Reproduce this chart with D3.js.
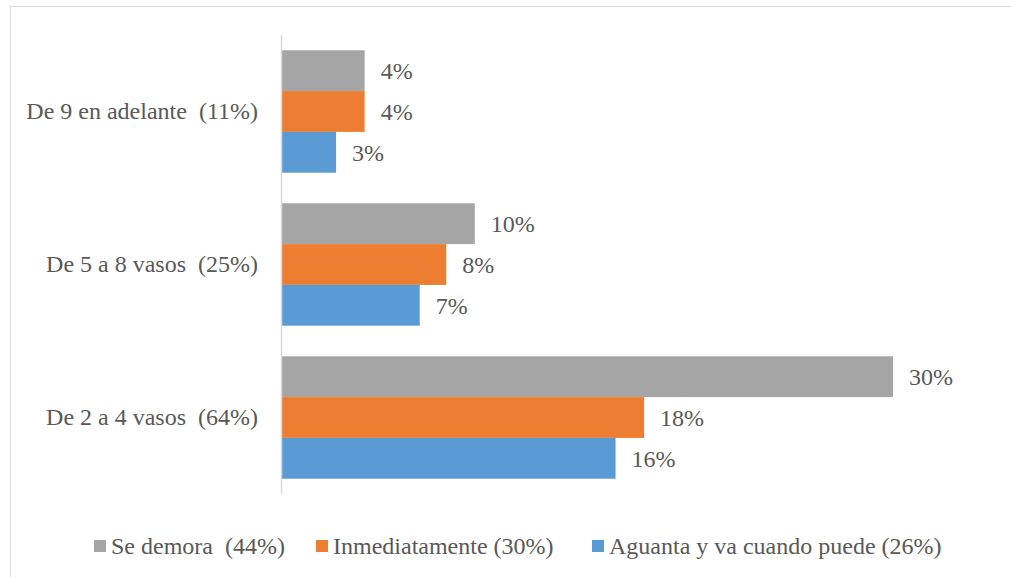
<!DOCTYPE html>
<html>
<head>
<meta charset="utf-8">
<script src="https://cdn.jsdelivr.net/npm/d3@7"></script>
</head>
<body style="margin:0">
<svg id="chart" width="1011" height="577"></svg>
<script>
// Categories (top to bottom) and series
const categories = ['De 9 en adelante  (11%)', 'De 5 a 8 vasos  (25%)', 'De 2 a 4 vasos  (64%)'];
const seriesNames = ['Se demora  (44%)', 'Inmediatamente (30%)', 'Aguanta y va cuando puede (26%)'];
const seriesColors = ['#A5A5A5', '#ED7D31', '#5B9BD5'];

// values per category, in series order (percent)
const seDemora = [4.1, 9.5, 30.0];
const inmediatamente = [4.1, 8.1, 17.8];
const aguanta = [2.7, 6.8, 16.4];

const seriesValues = [seDemora, inmediatamente, aguanta];

const FONT = 'Liberation Serif';
const FONT_SIZE = 24;
const TEXT_COLOR = '#595959';

const svg = d3.select('#chart');

// Outer chart border (only top/left visible in the frame)
svg.append('rect')
  .attr('x', 10.5).attr('y', 6.5)
  .attr('width', 1100).attr('height', 700)
  .attr('fill', 'none')
  .attr('stroke', '#D9D9D9');

const margin = { left: 281, top: 35, bottom: 494 };

const x = d3.scaleLinear().domain([0, 30]).range([margin.left, 893]);
const y0 = d3.scaleBand()
  .domain(categories)
  .range([margin.top, margin.bottom])
  .paddingInner(0.2)
  .paddingOuter(0.1);
const y1 = d3.scaleBand()
  .domain(d3.range(seriesNames.length))
  .range([0, y0.bandwidth()]);

const rows = [];
categories.forEach((c, i) => {
  seriesValues.forEach((vals, s) => {
    rows.push({ cat: c, s: s, v: vals[i] });
  });
});

const plot = svg.append('g');

plot.selectAll('rect.bar')
  .data(rows)
  .enter()
  .append('rect')
  .attr('class', 'bar')
  .attr('x', x(0))
  .attr('y', d => y0(d.cat) + y1(d.s))
  .attr('width', d => x(d.v) - x(0))
  .attr('height', y1.bandwidth())
  .attr('fill', d => seriesColors[d.s]);

plot.selectAll('text.val')
  .data(rows)
  .enter()
  .append('text')
  .attr('class', 'val')
  .attr('x', d => x(d.v) + 16)
  .attr('y', d => y0(d.cat) + y1(d.s) + y1.bandwidth() / 2)
  .attr('dy', '0.35em')
  .attr('font-family', FONT)
  .attr('font-size', FONT_SIZE)
  .attr('fill', TEXT_COLOR)
  .text(d => Math.round(d.v) + '%');

// Vertical category axis
const yAxis = d3.axisLeft(y0).tickSize(0).tickPadding(23);
const gy = svg.append('g')
  .attr('transform', `translate(${x(0)},0)`)
  .call(yAxis)
  .attr('font-family', FONT)
  .attr('font-size', FONT_SIZE);
gy.select('.domain')
  .attr('d', `M0.5,${margin.top}V${margin.bottom}`)
  .attr('stroke', '#D9D9D9')
  .attr('stroke-width', 1.5);
gy.selectAll('.tick text')
  .attr('xml:space', 'preserve')
  .attr('fill', TEXT_COLOR);

// Legend
const legendX = [94, 316, 592];
const legend = svg.append('g');
const items = legend.selectAll('g')
  .data(seriesNames)
  .enter()
  .append('g')
  .attr('transform', (d, i) => `translate(${legendX[i]},546)`);
items.append('rect')
  .attr('x', 0).attr('y', -6)
  .attr('width', 12).attr('height', 12)
  .attr('fill', (d, i) => seriesColors[i]);
items.append('text')
  .attr('x', 17)
  .attr('dy', '0.35em')
  .attr('xml:space', 'preserve')
  .attr('font-family', FONT)
  .attr('font-size', FONT_SIZE)
  .attr('fill', TEXT_COLOR)
  .text(d => d);
</script>
</body>
</html>
